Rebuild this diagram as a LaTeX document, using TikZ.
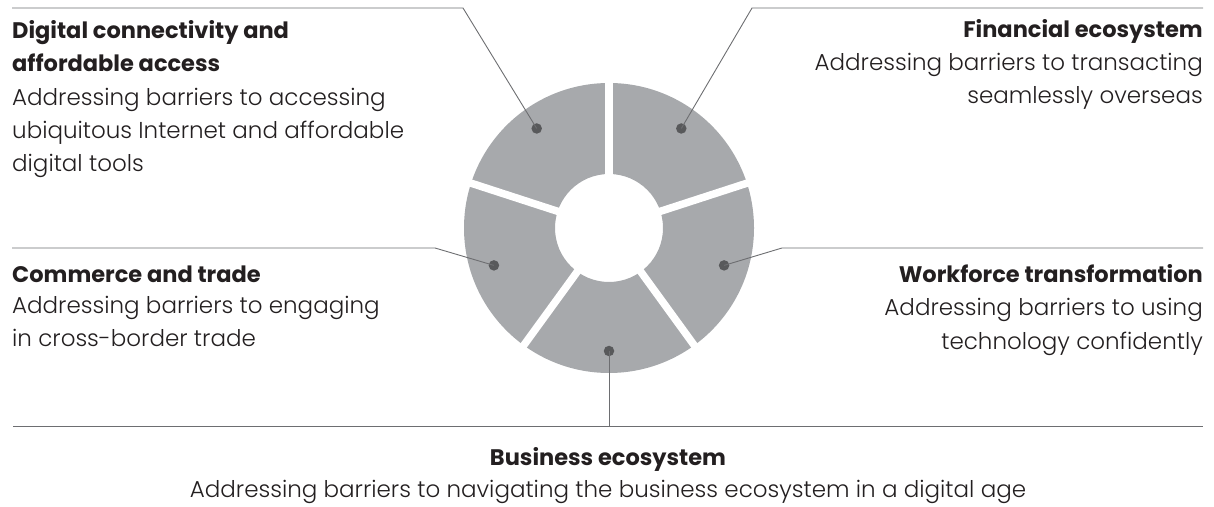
\documentclass[tikz,border=0pt]{standalone}
\usepackage{fontspec}
\setmainfont{Poppins}[UprightFont=* Light, BoldFont=* Bold]
\usetikzlibrary{positioning, calc}
\definecolor{segmentgray}{HTML}{A7A9AC}
\definecolor{dotgray}{HTML}{58595B}
\definecolor{leadergray}{HTML}{6D6E71}
\definecolor{textblack}{HTML}{231F20}

\begin{document}
\begin{tikzpicture}[
    x=1pt, y=1pt,
    heading/.style={font=\fontsize{22.5}{33.5}\selectfont\bfseries, text=textblack, inner sep=0pt},
    blurb/.style={font=\fontsize{23}{33}\selectfont, text=textblack, inner sep=0pt},
    marker/.style={circle, fill=dotgray, inner sep=0pt, minimum size=10.5pt},
    leader/.style={draw=leadergray, line width=0.9pt}
]
\useasboundingbox (0,0) rectangle (1214,506);

% ring of five segments
\coordinate (hub) at (609,278);
\fill[segmentgray, even odd rule] (hub) circle (145) (hub) circle (54);
\foreach \a in {90,18,-54,-126,162}
  \draw[white, line width=7.5pt] (hub) -- ++(\a:150);

\node (dotdigital) [marker] at ($(hub)+(126:123)$) {};
\node (dotfinance) [marker] at ($(hub)+(54:123)$) {};
\node (dotworkforce) [marker] at ($(hub)+(-18:121)$) {};
\node (dotbusiness) [marker] at ($(hub)+(-90:123)$) {};
\node (dotcommerce) [marker] at ($(hub)+(-162:121)$) {};

% leader lines
\coordinate (kneedigital) at (463,498);
\coordinate (enddigital) at (12,498);
\coordinate (kneefinance) at (752,498);
\coordinate (endfinance) at (1203,498);
\coordinate (kneecommerce) at (435,258);
\coordinate (endcommerce) at (12,258);
\coordinate (kneeworkforce) at (782,258);
\coordinate (endworkforce) at (1203,258);
\coordinate (kneebusiness) at (609,80);
\coordinate (leftbusiness) at (13,80);
\coordinate (rightbusiness) at (1203,80);

\draw [leader] (dotdigital.center) -- (kneedigital) -- (enddigital);
\draw [leader] (dotfinance.center) -- (kneefinance) -- (endfinance);
\draw [leader] (dotcommerce.center) -- (kneecommerce) -- (endcommerce);
\draw [leader] (dotworkforce.center) -- (kneeworkforce) -- (endworkforce);
\draw [leader] (dotbusiness.center) -- (kneebusiness);
\draw [leader] (leftbusiness) -- (rightbusiness);

% texts (base = last line)
\node (headdigital) [heading, anchor=base west, align=left] at (12,434) {Digital connectivity and\\affordable access};
\node (textdigital) [blurb, anchor=base west, align=left] at (12,334) {Addressing barriers to accessing\\ubiquitous Internet and affordable\\digital tools};

\node (headfinance) [heading, anchor=base east, align=right] at (1203,468) {Financial ecosystem};
\node (textfinance) [blurb, anchor=base east, align=right] at (1203,402) {Addressing barriers to transacting\\seamlessly overseas};

\node (headcommerce) [heading, anchor=base west, align=left] at (12,223) {Commerce and trade};
\node (textcommerce) [blurb, anchor=base west, align=left] at (12,159) {Addressing barriers to engaging\\in cross-border trade};

\node (headworkforce) [heading, anchor=base east, align=right] at (1203,223) {Workforce transformation};
\node (textworkforce) [blurb, anchor=base east, align=right] at (1203,157) {Addressing barriers to using\\technology confidently};

\node (headbusiness) [heading, anchor=base] at (608,41) {Business ecosystem};
\node (textbusiness) [blurb, anchor=base] at (608,9) {Addressing barriers to navigating the business ecosystem in a digital age};

\end{tikzpicture}
\end{document}
